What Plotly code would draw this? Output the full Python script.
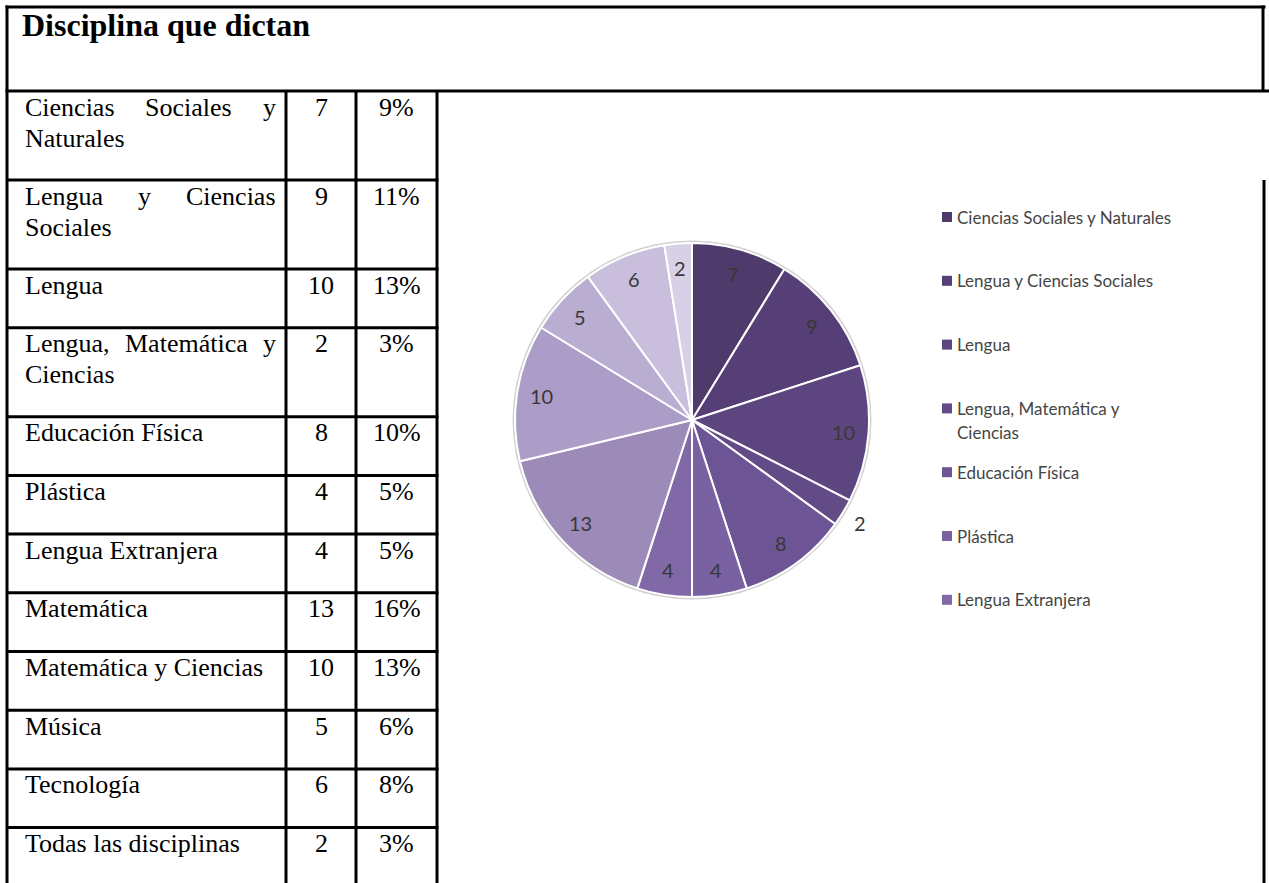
import math
import plotly.graph_objects as go

# ---------------------------------------------------------------- data
TITLE = "Disciplina que dictan"
DISCIPLINES = [
    "Ciencias Sociales y Naturales",
    "Lengua y Ciencias Sociales",
    "Lengua",
    "Lengua, Matemática y Ciencias",
    "Educación Física",
    "Plástica",
    "Lengua Extranjera",
    "Matemática",
    "Matemática y Ciencias",
    "Música",
    "Tecnología",
    "Todas las disciplinas",
]
TEACHERS = [7, 9, 10, 2, 8, 4, 4, 13, 10, 5, 6, 2]
PERCENT_LABELS = ["9%", "11%", "13%", "3%", "10%", "5%", "5%", "16%", "13%", "6%", "8%", "3%"]

# ---------------------------------------------------------------- style
W, H = 1269, 883
SLICE_COLORS = [
    "#4e3a6b", "#553f76", "#5d467f", "#634b88", "#6d5494", "#7a61a1",
    "#8169a8", "#9c8bb9", "#ab9dc7", "#b9add1", "#c9bfdc", "#d7d0e6",
]
SERIF = "Liberation Serif"
SANS = "Lato"
CELL_SIZE = 26
LINE_W = 3

# table geometry (pixels)
LEFT, TOP, RIGHT = 7, 7, 1264
TITLE_BOTTOM = 91
COL_X = [286, 356, 437]          # column separators
NAME_X0, NAME_X1 = 23, 274       # text box of the first column
ROW_H1, LINE_STEP = 58.7, 30.3   # height of a one-line row, extra per line

# pie geometry (pixels)
CX, CY, R = 692, 420, 177
LABEL_R = 0.86
OUTSIDE_LABELS = {"Lengua, Matemática y Ciencias"}
LEGEND_SHOWN = 7
LEGEND_X, LEGEND_Y0, LEGEND_STEP = 942, 217, 63.8
LEGEND_WRAP = {"Lengua, Matemática y Ciencias": ["Lengua, Matemática y", "Ciencias"]}

# Times-compatible advance widths (1/1000 em) used to wrap and justify cells
TNR = {
    " ": 250, ",": 250, "a": 444, "b": 500, "c": 444, "d": 500, "e": 444, "f": 333,
    "g": 500, "h": 500, "i": 278, "j": 278, "k": 500, "l": 278, "m": 778, "n": 500,
    "o": 500, "p": 500, "q": 500, "r": 333, "s": 389, "t": 278, "u": 500, "v": 500,
    "x": 500, "y": 500, "z": 444, "á": 444, "é": 444, "í": 278, "ó": 500, "ú": 500,
    "C": 667, "E": 611, "F": 556, "L": 611, "M": 889, "N": 722, "P": 556, "S": 556,
    "T": 611,
}


def text_width(s, size):
    return sum(TNR.get(ch, 500) for ch in s) / 1000.0 * size


def wrap(text, width, size):
    lines, cur = [], []
    for word in text.split():
        trial = " ".join(cur + [word])
        if cur and text_width(trial, size) > width:
            lines.append(cur)
            cur = [word]
        else:
            cur.append(word)
    lines.append(cur)
    return lines


fig = go.Figure()
shapes, annotations = [], []


def hline(y, x0, x1):
    shapes.append(dict(type="line", x0=x0, x1=x1, y0=y, y1=y,
                       line=dict(color="black", width=LINE_W), layer="above"))


def vline(x, y0, y1):
    shapes.append(dict(type="line", x0=x, x1=x, y0=y0, y1=y1,
                       line=dict(color="black", width=LINE_W), layer="above"))


def text(x, y, s, size, anchor="left", color="black", family=SERIF, weight="normal"):
    annotations.append(dict(x=x, y=y, xref="x", yref="y", text=s, showarrow=False,
                            xanchor=anchor, yanchor="middle",
                            font=dict(family=family, size=size, color=color, weight=weight)))


# ---------------------------------------------------------------- table frame
hline(TOP, LEFT - 1.5, RIGHT + 1.5)
hline(TITLE_BOTTOM, LEFT - 1.5, W)
vline(LEFT, TOP - 1.5, H)
vline(RIGHT - 1, TOP - 1.5, TITLE_BOTTOM)
vline(RIGHT, 180, H)
for cx in COL_X:
    vline(cx, TITLE_BOTTOM, H)

text(20, 25, TITLE, 32, weight="bold")

# ---------------------------------------------------------------- table rows
y_top = TITLE_BOTTOM
avail = NAME_X1 - NAME_X0
for i, name in enumerate(DISCIPLINES):
    lines = wrap(name, avail, CELL_SIZE)
    if i > 0:
        hline(y_top, LEFT, COL_X[-1] + 1.5)
    for k, words in enumerate(lines):
        yk = y_top + 16 + 31 * k
        if k < len(lines) - 1 and len(words) > 1:
            widths = [text_width(w, CELL_SIZE) for w in words]
            gap = (avail - sum(widths)) / (len(words) - 1)
            x = NAME_X0
            for w, wd in zip(words, widths):
                text(x, yk, w, CELL_SIZE)
                x += wd + gap
        else:
            text(NAME_X0, yk, " ".join(words), CELL_SIZE)
    text((COL_X[0] + COL_X[1]) / 2, y_top + 16, str(TEACHERS[i]), CELL_SIZE, anchor="center")
    text((COL_X[1] + COL_X[2]) / 2, y_top + 16, PERCENT_LABELS[i], CELL_SIZE, anchor="center")
    y_top += ROW_H1 + LINE_STEP * (len(lines) - 1)

# ---------------------------------------------------------------- pie
fig.add_trace(go.Pie(
    labels=DISCIPLINES, values=TEACHERS, sort=False, direction="clockwise", rotation=0,
    marker=dict(colors=SLICE_COLORS, line=dict(color="white", width=2)),
    textinfo="none", hoverinfo="label+value+percent", showlegend=False,
    domain=dict(x=[(CX - R) / W, (CX + R) / W], y=[1 - (CY + R) / H, 1 - (CY - R) / H]),
))
shapes.append(dict(type="circle", x0=CX - R - 1.5, x1=CX + R + 1.5, y0=CY - R - 1.5, y1=CY + R + 1.5,
                   line=dict(color="#d2d2d2", width=2), layer="below"))

total = float(sum(TEACHERS))
start = 0.0
for name, v in zip(DISCIPLINES, TEACHERS):
    mid = (start + v / 2.0) / total * 2 * math.pi
    rr = R * (1.11 if name in OUTSIDE_LABELS else LABEL_R)
    text(CX + rr * math.sin(mid), CY - rr * math.cos(mid), str(v), 20,
         anchor="center", color="#383838", family=SANS)
    start += v

# ---------------------------------------------------------------- legend
for i in range(LEGEND_SHOWN):
    yi = LEGEND_Y0 + LEGEND_STEP * i
    shapes.append(dict(type="rect", x0=LEGEND_X, x1=LEGEND_X + 10, y0=yi - 5, y1=yi + 5,
                       fillcolor=SLICE_COLORS[i], line=dict(width=0), layer="above"))
    parts = LEGEND_WRAP.get(DISCIPLINES[i], [DISCIPLINES[i]])
    for k, part in enumerate(parts):
        text(LEGEND_X + 13, yi + 24 * k, part, 17, color="#454545", family=SANS)

fig.update_layout(
    width=W, height=H, margin=dict(l=0, r=0, t=0, b=0),
    paper_bgcolor="white", plot_bgcolor="white",
    xaxis=dict(range=[0, W], visible=False, fixedrange=True),
    yaxis=dict(range=[H, 0], visible=False, fixedrange=True),
    shapes=shapes, annotations=annotations, showlegend=False,
)

fig.write_html("out.html")
